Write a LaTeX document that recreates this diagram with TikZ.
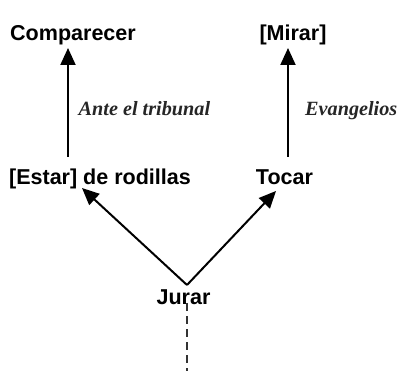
\documentclass[tikz,border=0pt]{standalone}
\usepackage{fontspec}
\setmainfont{Liberation Sans}
\newfontfamily\serifit{Liberation Serif}
\usetikzlibrary{arrows.meta}
\begin{document}
\begin{tikzpicture}[x=1bp,y=1bp,
  lbl/.style={font=\fontsize{21.6}{24}\selectfont\bfseries, inner sep=0pt, anchor=base},
  elbl/.style={font=\serifit\fontsize{20.3}{24}\selectfont\bfseries\itshape, inner sep=0pt, anchor=base west, text=black!85},
  arr/.style={line width=2bp, -{Triangle[length=17bp,width=15bp]}},
  dsh/.style={line width=1.3bp, dash pattern=on 8bp off 5bp, draw=black!80}]
\useasboundingbox (0,0) rectangle (400,371);
\node[lbl] (comp) at (73,330.5) {Comparecer};
\node[lbl] (mirar) at (293,330.5) {[Mirar]};
\node[lbl] (estar) at (100,187) {[Estar] de rodillas};
\node[lbl] (tocar) at (284.5,187) {Tocar};
\node[lbl] (jurar) at (183.5,67) {Jurar};
\node[elbl] (ante) at (78.5,256) {Ante el tribunal};
\node[elbl] (evang) at (305,256) {Evangelios};
\coordinate (ls) at (68,214);
\coordinate (lt) at (68,323);
\coordinate (rs) at (288,214);
\coordinate (rt) at (288,323);
\coordinate (apex) at (187,86);
\coordinate (dt) at (82,183);
\coordinate (et) at (276,180);
\coordinate (ds) at (187,68);
\coordinate (de) at (187,0);
\draw[arr] (ls) -- (lt);
\draw[arr] (rs) -- (rt);
\draw[arr] (apex) -- (dt);
\draw[arr] (apex) -- (et);
\draw[dsh] (ds) -- (de);
\end{tikzpicture}
\end{document}
